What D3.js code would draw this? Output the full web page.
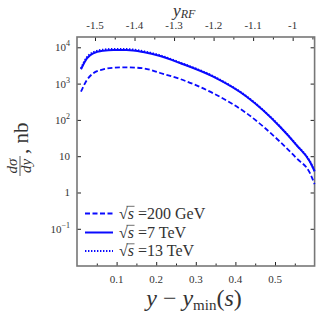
<!DOCTYPE html>
<html>
<head>
<meta charset="utf-8">
<script src="https://cdn.jsdelivr.net/npm/d3@7"></script>
<style>
body{margin:0;background:#fff}
svg{display:block}
text{font-family:"Liberation Serif",serif;fill:#333}
</style>
</head>
<body>
<svg id="chart" width="318" height="318"></svg>
<script>
// y - ymin(s)
var xVals = [0.010, 0.025, 0.041, 0.066, 0.092, 0.125, 0.167, 0.21, 0.26, 0.344, 0.4285, 0.5126, 0.5548, 0.5884, 0.6];
// dsigma/dy, nb
var gev200 = [598, 1256, 1923, 2477, 2742, 2812, 2640, 1960, 1340, 541, 152, 25, 8.7, 3.4, 1.7];
var tev7 = [2480, 4980, 6840, 8060, 8430, 8430, 7420, 5750, 3690, 1550, 435, 65, 20, 7, 3.8];
var tev13 = [2600, 5300, 7300, 8600, 9000, 8950, 7800, 6000, 3800, 1600, 445, 66, 20.3, 7.1, 3.9];
var seriesLabels = ["200 GeV", "7 TeV", "13 TeV"];

var xTicks = [0.1, 0.2, 0.3, 0.4, 0.5];
var xMinor = [0.05, 0.15, 0.25, 0.35, 0.45, 0.55];
var topTicks = [-1.5, -1.4, -1.3, -1.2, -1.1, -1];
var topTickText = ["-1.5", "-1.4", "-1.3", "-1.2", "-1.1", "-1"];
var topMinor = [-1.45, -1.35, -1.25, -1.15, -1.05, -0.95];
var yTicks = [0.1, 1, 10, 100, 1000, 10000];
var yTickBase = ["10", "1", "10", "10", "10", "10"];
var yTickExp = ["\u22121", "", "", "2", "3", "4"];

var pL = 77, pR = 314.6, pT = 37, pB = 266;
var blue = "#0a0aff";

var svg = d3.select("#chart");

var x = d3.scaleLinear().domain([0, 0.6]).range([pL, pR]);
var xTop = d3.scaleLinear().domain([-1.5455, -0.9445]).range([pL, pR]);
var y = d3.scaleLog().domain([Math.pow(10, -2.025), Math.pow(10, 4.284)]).range([pB, pT]);

// ticks (inward)
function ticks(axis, scale, vals, size, pos) {
  var g = svg.append("g")
    .attr("transform", pos)
    .call(axis(scale).tickValues(vals).tickSize(-size).tickFormat(""));
  g.select(".domain").remove();
  g.selectAll("line").attr("stroke", "#222").attr("stroke-width", 1);
}
ticks(d3.axisBottom, x, xTicks, 4, "translate(0," + pB + ")");
ticks(d3.axisBottom, x, xMinor, 2.5, "translate(0," + pB + ")");
ticks(d3.axisTop, xTop, topTicks, 4, "translate(0," + pT + ")");
ticks(d3.axisTop, xTop, topMinor, 2.5, "translate(0," + pT + ")");
ticks(d3.axisLeft, y, yTicks, 4, "translate(" + pL + ",0)");
ticks(d3.axisRight, y, yTicks, 4, "translate(" + pR + ",0)");

// frame
svg.append("rect")
  .attr("x", pL).attr("y", pT)
  .attr("width", pR - pL).attr("height", pB - pT)
  .attr("fill", "none").attr("stroke", "#777").attr("stroke-width", 1.6);

// tick labels
svg.append("g").selectAll("text").data(xTicks).join("text")
  .attr("x", d => x(d)).attr("y", 283)
  .attr("text-anchor", "middle").attr("font-size", 11)
  .text(d => d.toFixed(1));

svg.append("g").selectAll("text").data(topTicks).join("text")
  .attr("x", d => xTop(d)).attr("y", 29)
  .attr("text-anchor", "middle").attr("font-size", 11)
  .text((d, i) => topTickText[i]);

var yl = svg.append("g").selectAll("text").data(yTicks).join("text")
  .attr("x", 70).attr("y", d => y(d) + 4)
  .attr("text-anchor", "end").attr("font-size", 11);
yl.append("tspan").text((d, i) => yTickBase[i]);
yl.append("tspan").attr("dy", -5).attr("font-size", 8).text((d, i) => yTickExp[i]);

// curves
var line = d3.line()
  .x((d, i) => x(xVals[i]))
  .y(d => y(d))
  .curve(d3.curveMonotoneX);

var series = [gev200, tev7, tev13];
var dashes = ["5,2.5", null, "1.4,1.6"];
var widths = [1.8, 2, 2];
series.forEach(function(s, i) {
  svg.append("path")
    .datum(s)
    .attr("d", line)
    .attr("fill", "none")
    .attr("stroke", blue)
    .attr("stroke-width", widths[i])
    .attr("stroke-dasharray", dashes[i]);
});

// legend
var legY = [213.5, 232.5, 251];
seriesLabels.forEach(function(lab, i) {
  svg.append("line")
    .attr("x1", 85).attr("x2", 113)
    .attr("y1", legY[i]).attr("y2", legY[i])
    .attr("stroke", blue).attr("stroke-width", widths[i])
    .attr("stroke-dasharray", dashes[i]);
  var t = svg.append("text")
    .attr("x", 119).attr("y", legY[i] + 5)
    .attr("font-size", 16);
  t.append("tspan").text("\u221a");
  t.append("tspan").attr("font-style", "italic").text("s");
  t.append("tspan").text(" =" + lab);
  var node = t.node();
  var s1 = node.getEndPositionOfChar(1).x;
  var r0 = node.getStartPositionOfChar(0).x;
  svg.append("line")
    .attr("x1", r0 + 7.5).attr("x2", s1 + 0.5)
    .attr("y1", legY[i] - 7.2).attr("y2", legY[i] - 7.2)
    .attr("stroke", "#333").attr("stroke-width", 0.7);
});

// x title
var xt = svg.append("text")
  .attr("x", 194).attr("y", 306)
  .attr("text-anchor", "middle").attr("font-size", 24);
xt.append("tspan").attr("font-style", "italic").text("y");
xt.append("tspan").text(" \u2212 ");
xt.append("tspan").attr("font-style", "italic").text("y");
xt.append("tspan").attr("font-size", 15).attr("dy", 4).text("min");
xt.append("tspan").attr("dy", -4).text("(");
xt.append("tspan").attr("font-style", "italic").text("s");
xt.append("tspan").text(")");

// top title
var tt = svg.append("text")
  .attr("x", 173).attr("y", 15.5)
  .attr("font-size", 17.5);
tt.append("tspan").attr("font-style", "italic").text("y");
tt.append("tspan").attr("font-style", "italic").attr("font-size", 12).attr("dy", 2.5).text("RF");

// y title
var yg = svg.append("g").attr("transform", "translate(20,148) rotate(-90)");
yg.append("text").attr("x", -18).attr("y", -3)
  .attr("text-anchor", "middle").attr("font-size", 15).attr("font-style", "italic").text("d\u03c3");
yg.append("line").attr("x1", -28).attr("x2", -8).attr("y1", 0).attr("y2", 0)
  .attr("stroke", "#333").attr("stroke-width", 0.8);
yg.append("text").attr("x", -18).attr("y", 11)
  .attr("text-anchor", "middle").attr("font-size", 15).attr("font-style", "italic").text("dy");
yg.append("text").attr("x", -6).attr("y", 8)
  .attr("font-size", 21).text(", nb");
</script>
</body>
</html>
